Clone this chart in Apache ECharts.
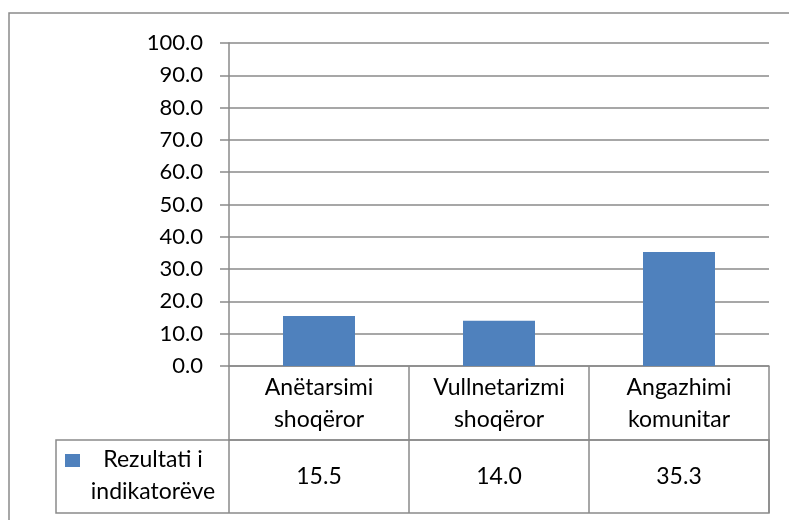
<!DOCTYPE html>
<html><head><meta charset="utf-8">
<script src="https://cdn.jsdelivr.net/npm/echarts@6/dist/echarts.min.js"></script>
<style>html,body{margin:0;padding:0;background:#fff}#c{width:789px;height:520px}</style>
</head><body><div id="c"></div>
<script>
var categories = ['Anëtarsimi\nshoqëror', 'Vullnetarizmi\nshoqëror', 'Angazhimi\nkomunitar'];
var values = [15.5, 14.0, 35.3];
var seriesName = 'Rezultati i indikatorëve';
var legendLabel = 'Rezultati i\nindikatorëve';
var yMin = 0, yMax = 100, yStep = 10;

var FONT = 'Lato';
var GRAY = '#8a8a8a';
var chart = echarts.init(document.getElementById('c'), null, {renderer: 'canvas'});
var gridL = 229, gridR = 20, gridT = 43, gridB = 154;
var rowH = 74;
chart.setOption({
  animation: false,
  grid: {left: gridL, right: gridR, top: gridT, bottom: gridB, containLabel: false},
  xAxis: [{
    type: 'category', data: categories, position: 'bottom',
    axisLine: {show: true, lineStyle: {color: GRAY, width: 1.5}},
    axisTick: {show: true, interval: 0, length: rowH, lineStyle: {color: GRAY, width: 1.5}},
    axisLabel: {interval: 0, margin: 6, fontFamily: FONT, fontSize: 23, color: '#000', lineHeight: 32}
  }, {
    type: 'category', data: values.map(function(v){return v.toFixed(1);}), position: 'bottom', offset: rowH,
    axisLine: {show: true, lineStyle: {color: GRAY, width: 1.5}},
    axisTick: {show: true, interval: 0, length: 73, lineStyle: {color: GRAY, width: 1.5}},
    axisLabel: {interval: 0, margin: 21, fontFamily: FONT, fontSize: 23, color: '#000', lineHeight: 32}
  }],
  yAxis: {
    type: 'value', min: yMin, max: yMax, interval: yStep,
    axisLine: {show: true, lineStyle: {color: GRAY, width: 1.5}},
    axisTick: {show: true, length: 9, lineStyle: {color: GRAY, width: 1.5}},
    splitLine: {show: true, lineStyle: {color: GRAY, width: 1.5}},
    axisLabel: {margin: 26, fontFamily: FONT, fontSize: 22, color: '#000', formatter: function(v){return v.toFixed(1);}}
  },
  series: [{
    name: seriesName, type: 'bar', data: values, xAxisIndex: 0,
    barWidth: '40%', itemStyle: {color: '#4F81BD'}, z: 1
  }],
  graphic: [
    {type: 'rect', shape: {x: 9, y: 13, width: 820, height: 540}, style: {fill: 'none', stroke: GRAY, lineWidth: 1.5}, z: 0},
    {type: 'rect', shape: {x: 56, y: 440, width: 713, height: 73}, style: {fill: 'none', stroke: GRAY, lineWidth: 1.5}},
    {type: 'rect', shape: {x: 65, y: 454, width: 15, height: 13}, style: {fill: '#4F81BD'}},
    {type: 'text', x: 153, y: 476, style: {text: legendLabel, fontFamily: FONT, fontSize: 23, lineHeight: 32, fill: '#000', align: 'center', verticalAlign: 'middle'}}
  ]
});
</script></body></html>
